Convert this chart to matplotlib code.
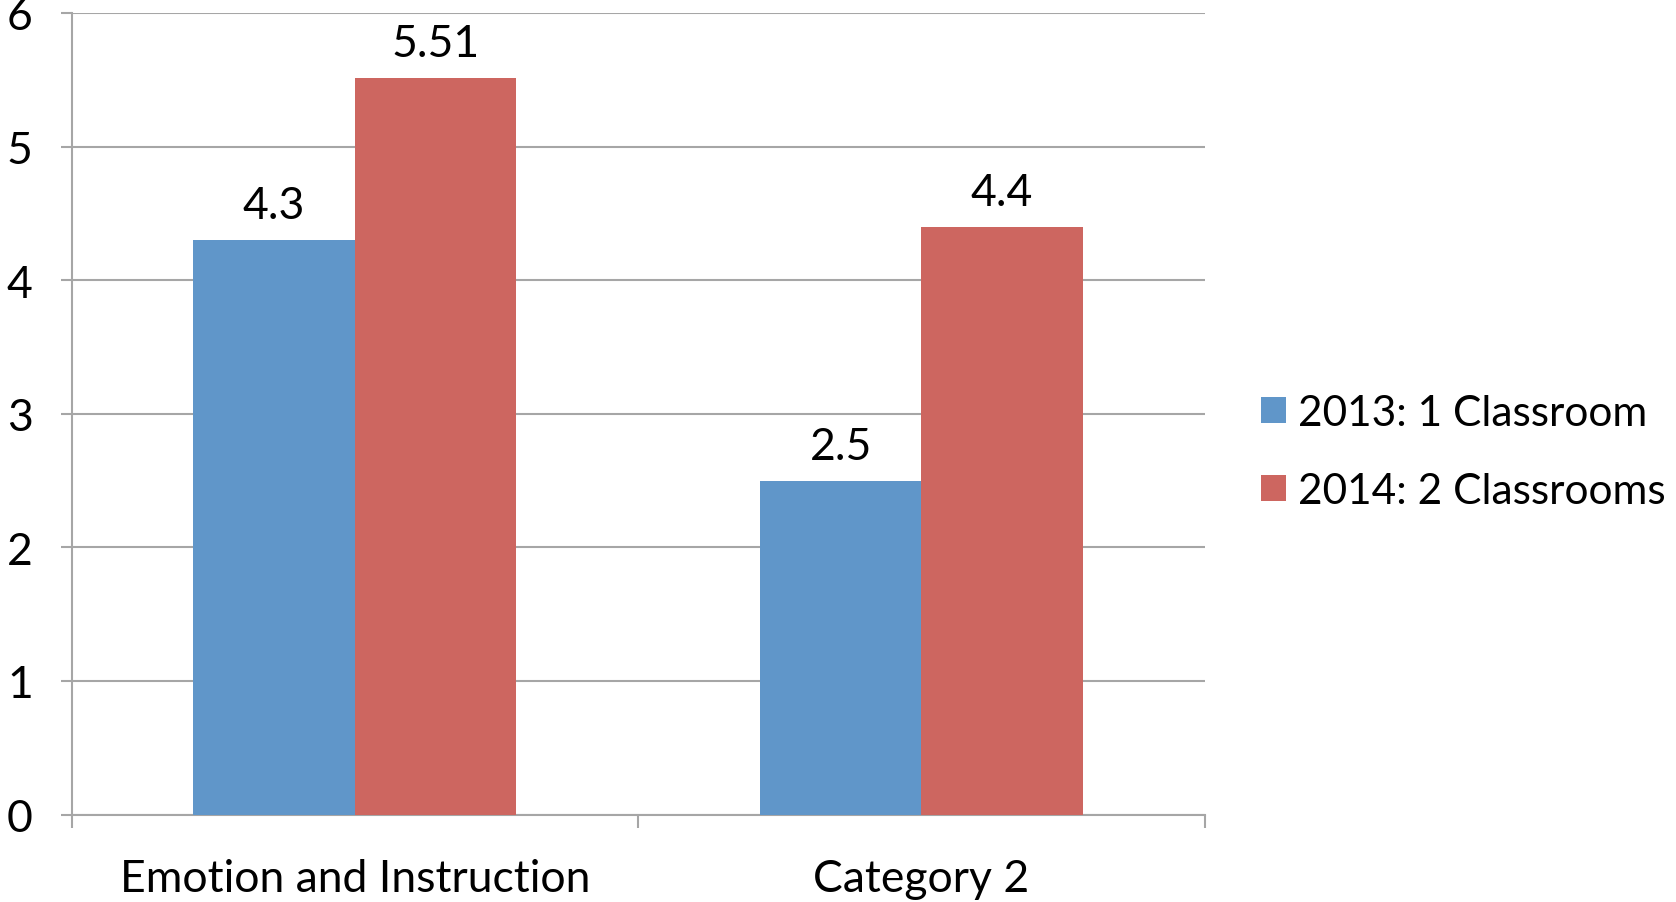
import matplotlib
matplotlib.use("Agg")
import matplotlib.pyplot as plt
import numpy as np

categories = ["Emotion and Instruction", "Category 2"]
series_names = ["2013: 1 Classroom", "2014: 2 Classrooms"]
vals_2013 = [4.3, 2.5]
vals_2014 = [5.51, 4.4]
labels_2013 = ["4.3", "2.5"]
labels_2014 = ["5.51", "4.4"]
y_ticks = [0, 1, 2, 3, 4, 5, 6]

BLUE = "#6096C9"
RED = "#CD6660"
GRID = "#A6A6A6"

plt.rcParams["font.family"] = ["Lato", "DejaVu Sans"]
FS = 32
LEG_FS = 30.5

fig = plt.figure(figsize=(16.76, 9.03), dpi=100)
ax = fig.add_axes([0.0427, 0.0968, 0.676, 0.8878])

x = np.arange(len(categories))
w = 0.285
b1 = ax.bar(x - w / 2, vals_2013, w, color=BLUE, label=series_names[0], zorder=3)
b2 = ax.bar(x + w / 2, vals_2014, w, color=RED, label=series_names[1], zorder=3)
ax.bar_label(b1, labels=labels_2013, padding=10, fontsize=FS)
ax.bar_label(b2, labels=labels_2014, padding=10, fontsize=FS)

ax.set_xlim(-0.5, 1.5)
ax.set_ylim(0, 6)
ax.set_yticks(y_ticks)
ax.set_yticklabels([str(t) for t in y_ticks], fontsize=FS)
ax.yaxis.grid(True, color=GRID, linewidth=1.5, zorder=0)
ax.tick_params(axis="y", length=8, width=1.5, color=GRID, pad=20)

# boundary ticks between categories, labels on minor ticks
ax.set_xticks([-0.5, 0.5, 1.5])
ax.set_xticklabels([])
ax.set_xticks(x, minor=True)
ax.set_xticklabels(categories, minor=True, fontsize=FS)
ax.tick_params(axis="x", which="major", length=9, width=1.5, color=GRID)
ax.tick_params(axis="x", which="minor", length=0, pad=31)

for s in ["top", "right"]:
    ax.spines[s].set_visible(False)
for s in ["left", "bottom"]:
    ax.spines[s].set_color(GRID)
    ax.spines[s].set_linewidth(1.5)

fig.legend(loc="center left", bbox_to_anchor=(0.7525, 0.4985),
           bbox_transform=fig.transFigure, frameon=False, fontsize=LEG_FS,
           handlelength=0.58, handleheight=0.58, handletextpad=0.3,
           labelspacing=0.95, borderpad=0, borderaxespad=0)

fig.savefig("out.png", dpi=100)
